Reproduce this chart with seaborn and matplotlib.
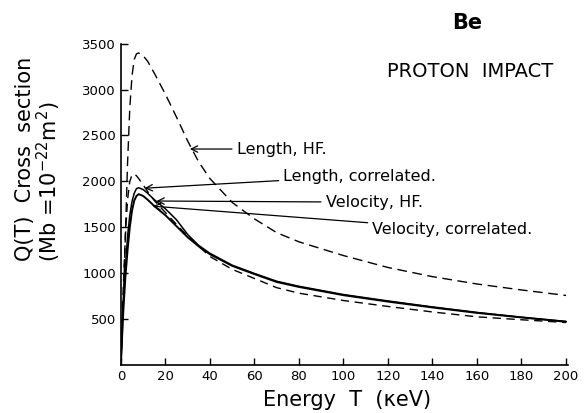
import numpy as np
import pandas as pd
import matplotlib
matplotlib.use("Agg")
import matplotlib.pyplot as plt
import seaborn as sns

# Energy grid (keV) and cross sections (Mb)
energy = [0, 1, 2, 3, 4, 5, 6, 7, 8, 10, 12, 15, 20, 25, 30, 35, 40, 50, 60,
          70, 80, 100, 120, 140, 160, 180, 200]

length_hf = [0, 600, 1400, 2200, 2800, 3150, 3330, 3390, 3400, 3370, 3310, 3180,
             2950, 2700, 2440, 2210, 2030, 1770, 1590, 1440, 1340, 1190, 1060,
             960, 880, 815, 755]
length_corr = [0, 650, 1050, 1400, 1630, 1780, 1870, 1920, 1930, 1910, 1870, 1800,
               1700, 1580, 1420, 1300, 1215, 1085, 995, 910, 855, 765, 695, 630,
               570, 518, 472]
velocity_hf = [0, 800, 1400, 1800, 2000, 2070, 2080, 2060, 2030, 1960, 1890, 1790,
               1660, 1530, 1400, 1290, 1180, 1040, 940, 840, 780, 700, 635, 575,
               522, 490, 460]
velocity_corr = [0, 550, 950, 1250, 1500, 1680, 1790, 1840, 1860, 1840, 1800, 1730,
                 1630, 1510, 1390, 1290, 1205, 1078, 988, 902, 848, 758, 688, 624,
                 565, 515, 468]

curves = {
    "Length, HF.": (length_hf, (0, (7, 4)), 1.0),
    "Length, correlated.": (length_corr, "-", 1.1),
    "Velocity, HF.": (velocity_hf, (0, (6, 4)), 1.0),
    "Velocity, correlated.": (velocity_corr, "-", 1.4),
}

# label text position, arrow tip (data coords)
labels = {
    "Length, HF.": ((52, 2352), (31, 2352)),
    "Length, correlated.": ((73, 2057), (10.7, 1925)),
    "Velocity, HF.": ((92, 1772), (16, 1785)),
    "Velocity, correlated.": ((113, 1477), (14.3, 1729)),
}

sns.set_style("ticks")
plt.rcParams["font.family"] = ["DejaVu Sans"]
plt.rcParams["text.color"] = "black"
plt.rcParams["axes.labelcolor"] = "black"
plt.rcParams["xtick.color"] = "black"
plt.rcParams["ytick.color"] = "black"
plt.rcParams["axes.edgecolor"] = "black"

fig = plt.figure(figsize=(5.84, 4.13), dpi=100)
ax = fig.add_axes([0.207, 0.117, 0.766, 0.777])

for name, (vals, ls, lw) in curves.items():
    df = pd.DataFrame({"T": energy, "Q": vals})
    sns.lineplot(data=df, x="T", y="Q", ax=ax, color="black", linestyle=ls,
                 linewidth=lw)

for name, (txt, tip) in labels.items():
    ax.annotate(name, xy=tip, xytext=txt, fontsize=11.5, va="center", ha="left",
                arrowprops=dict(arrowstyle="->", color="black", lw=0.9,
                                shrinkA=1, shrinkB=0))

ax.set_xlim(0, 201)
ax.set_ylim(0, 3500)
ax.set_xticks(np.arange(0, 201, 20))
ax.set_yticks(np.arange(500, 3501, 500))
ax.tick_params(direction="in", length=5, width=1, labelsize=9.5)
sns.despine(ax=ax)
ax.spines["left"].set_linewidth(1.2)
ax.spines["bottom"].set_linewidth(1.2)
ax.set_xlabel("")
ax.set_ylabel("")

fig.text(0.594, 0.031, "Energy  T  (\u03baeV)", fontsize=15, ha="center",
         va="center")
fig.text(0.043, 0.615, "Q(T)  Cross  section", fontsize=15, rotation=90,
         ha="center", va="center")
fig.text(0.084, 0.56, "(Mb =10$^{-22}$m$^{2}$)", fontsize=15, rotation=90,
         ha="center", va="center")
fig.text(0.80, 0.945, "Be", fontsize=15, fontweight="bold", ha="center",
         va="center")
fig.text(0.805, 0.828, "PROTON  IMPACT", fontsize=14, ha="center", va="center")

fig.savefig("out.png", dpi=100)
